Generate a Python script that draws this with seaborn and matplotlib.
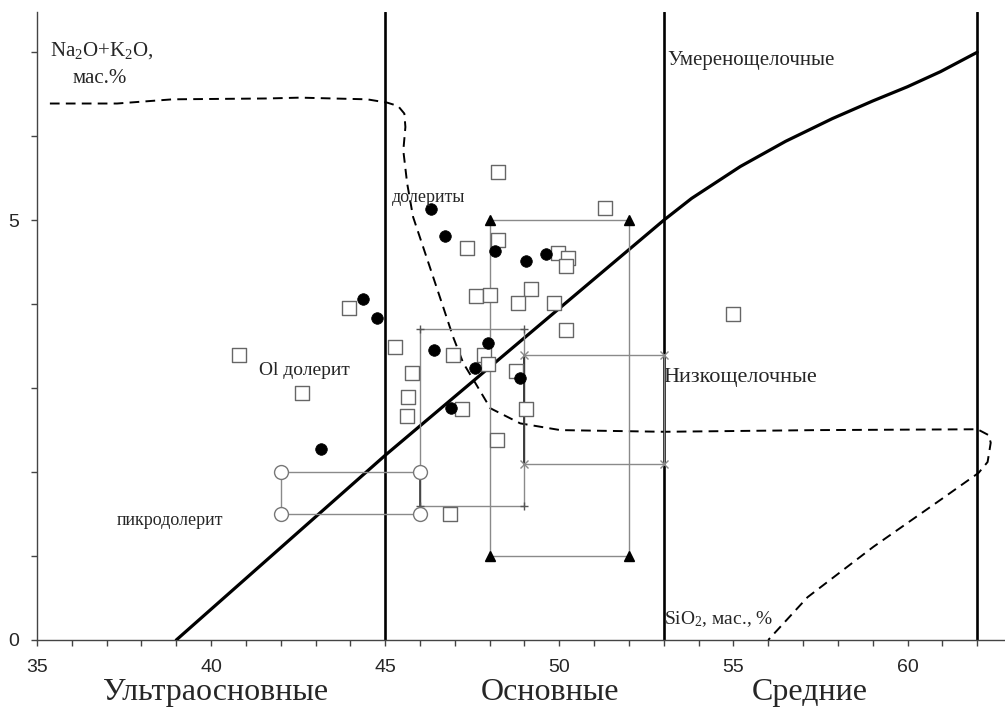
import numpy as np
import pandas as pd
import matplotlib
matplotlib.use("Agg")
import matplotlib.pyplot as plt
import seaborn as sns

# ---- data -------------------------------------------------------------
# Filled circles: SiO2, Na2O+K2O
circ_si = [46.32, 46.72, 48.16, 49.05, 49.63, 44.37, 44.77, 47.96, 46.41,
           47.59, 48.88, 46.90, 43.16]
circ_alk = [5.13, 4.81, 4.63, 4.52, 4.60, 4.06, 3.83, 3.54, 3.45,
            3.24, 3.12, 2.76, 2.27]

# Open squares: SiO2, Na2O+K2O
sq_si = [48.25, 51.32, 48.25, 47.36, 49.97, 50.26, 50.20, 49.20, 47.60,
         48.00, 48.82, 49.86, 50.20, 43.97, 45.29, 40.80, 46.95, 47.84,
         47.96, 45.78, 45.66, 42.60, 45.63, 47.21, 48.76, 49.05, 48.22,
         46.87, 55.00]
sq_alk = [5.58, 5.15, 4.76, 4.67, 4.61, 4.55, 4.46, 4.18, 4.10,
          4.11, 4.01, 4.01, 3.69, 3.95, 3.49, 3.39, 3.40, 3.39,
          3.29, 3.18, 2.90, 2.94, 2.67, 2.75, 3.20, 2.75, 2.38,
          1.50, 3.88]

# Composition ranges (SiO2 min/max, alkali min/max)
rng_picro = (42.0, 46.0, 1.5, 2.0)     # open circles
rng_plus = (46.0, 49.0, 1.6, 3.7)      # plus markers
rng_cross = (49.0, 53.0, 2.1, 3.4)     # x markers
rng_tri = (48.0, 52.0, 1.0, 5.0)       # triangles

# Alkaline / subalkaline boundary
bnd_si = [39.0, 45.0, 49.0, 53.0, 53.8, 55.2, 56.5, 57.84, 59.0, 60.0, 60.95, 62.0]
bnd_alk = [0.0, 2.2, 3.6, 5.0, 5.26, 5.64, 5.94, 6.21, 6.42, 6.59, 6.77, 7.0]

# Dolerite field contour (dashed)
fld_si = [35.37, 37.3, 38.9, 41.6, 42.56, 43.5, 44.48, 45.06, 45.37, 45.55,
          45.58, 45.52, 45.63, 45.80, 46.09, 46.38, 46.67, 46.95, 47.24,
          47.59, 48.02, 48.88, 50.03, 53.0, 57.41, 62.01, 62.33, 62.39,
          62.30, 62.04, 60.95, 59.02, 57.13, 56.0]
fld_alk = [6.39, 6.39, 6.44, 6.45, 6.46, 6.45, 6.44, 6.40, 6.36, 6.27,
           6.11, 5.83, 5.44, 5.04, 4.68, 4.32, 3.96, 3.61, 3.30,
           3.06, 2.76, 2.58, 2.50, 2.48, 2.50, 2.51, 2.44, 2.35,
           2.12, 1.99, 1.67, 1.11, 0.51, 0.0]

# Silica class borders
class_si = [45, 53, 62]
class_names = ["Ультраосновные", "Основные", "Средние"]
class_pos = [40.14, 49.74, 57.2]

# ---- style ------------------------------------------------------------
sns.set_theme(style="white")
plt.rcParams["font.family"] = ["Liberation Serif", "DejaVu Serif"]
plt.rcParams["mathtext.fontset"] = "custom"
plt.rcParams["mathtext.rm"] = "Liberation Serif"
plt.rcParams["mathtext.it"] = "Liberation Serif:italic"

fig = plt.figure(figsize=(10.05, 7.08), dpi=100)
ax = fig.add_axes([37 / 1005, 1 - 640 / 708, 1 - 37 / 1005, (640 - 12) / 708])
ax.set_xlim(35, 62.8)
ax.set_ylim(0, 7.48)

GRAY = "#8a8a8a"

# silica class borders
for xv in class_si:
    ax.axvline(xv, color="black", lw=1.9, zorder=2)

# boundary line
sns.lineplot(x=bnd_si, y=bnd_alk, sort=False, estimator=None, ax=ax,
             color="black", lw=2.3, zorder=3)

# dolerite field
sns.lineplot(x=fld_si, y=fld_alk, sort=False, estimator=None, ax=ax,
             color="black", lw=1.4, zorder=3, dashes=False)
ax.lines[-1].set_dashes((5, 3.2))


def draw_range(r, marker, ms, mfc, mec, mew):
    x0, x1, y0, y1 = r
    xs = [x0, x1, x1, x0, x0]
    ys = [y0, y0, y1, y1, y0]
    ax.plot(xs, ys, color=GRAY, lw=1.0, zorder=4)
    ax.plot([x0, x1, x1, x0], [y0, y0, y1, y1], ls="none", marker=marker,
            ms=ms, mfc=mfc, mec=mec, mew=mew, zorder=6)


draw_range(rng_tri, "^", 7, "black", "black", 1.0)
draw_range(rng_plus, "+", 6, "none", "#555555", 1.0)
draw_range(rng_cross, "x", 6, "none", GRAY, 1.0)
draw_range(rng_picro, "o", 10, "white", "#777777", 1.0)

# the two shared edges at SiO2 = 46 and 49 overlap and read darker
ax.plot([46, 46], [1.5, 2.0], color="#333333", lw=1.1, zorder=5)
ax.plot([49, 49], [2.1, 3.4], color="#333333", lw=1.3, zorder=5)

# samples
sq = pd.DataFrame({"SiO2": sq_si, "alk": sq_alk})
ci = pd.DataFrame({"SiO2": circ_si, "alk": circ_alk})
sns.scatterplot(data=sq, x="SiO2", y="alk", marker="s", s=100,
                facecolor="white", edgecolor="#666666", linewidth=1.0,
                ax=ax, zorder=7)
sns.scatterplot(data=ci, x="SiO2", y="alk", marker="o", s=70,
                color="black", edgecolor="black", linewidth=0.5,
                ax=ax, zorder=8)

# ---- axes -------------------------------------------------------------
for s in ["top", "right"]:
    ax.spines[s].set_visible(False)
for s in ["left", "bottom"]:
    ax.spines[s].set_color("#444444")
    ax.spines[s].set_linewidth(1.0)

ax.set_xticks([35, 40, 45, 50, 55, 60])
ax.set_xticks(np.arange(35, 63, 1), minor=True)
ax.set_yticks([0, 5])
ax.set_yticks(np.arange(0, 8, 1), minor=True)
ax.tick_params(axis="both", which="both", direction="out", length=4.5,
               width=1.0, color="#444444", bottom=True, left=True)
ax.tick_params(axis="x", which="major", pad=9, labelsize=14)
ax.tick_params(axis="y", which="major", pad=8.5, labelsize=14)
for lab in ax.get_xticklabels() + ax.get_yticklabels():
    lab.set_family(["Liberation Sans", "DejaVu Sans"])
ax.set_xlabel("")
ax.set_ylabel("")

# ---- annotations ------------------------------------------------------
ax.text(35.37, 7.02, r"Na$_2$O+K$_2$O,", fontsize=15, va="center", ha="left")
ax.text(36.03, 6.69, "мас.%", fontsize=15, va="center", ha="left")
ax.text(53.1, 6.9, "Умеренощелочные", fontsize=15, va="center", ha="left")
ax.text(45.2, 5.27, "долериты", fontsize=13, va="center", ha="left", zorder=9)
ax.text(41.38, 3.21, "Ol долерит", fontsize=14, va="center", ha="left")
ax.text(52.99, 3.13, "Низкощелочные", fontsize=16, va="center", ha="left")
ax.text(37.3, 1.42, "пикродолерит", fontsize=13, va="center", ha="left")
ax.text(53.02, 0.25, r"SiO$_2$, мас., %", fontsize=14, va="center", ha="left")

for name, xp in zip(class_names, class_pos):
    ax.text(xp, -0.72, name, fontsize=23, ha="center", va="baseline",
            clip_on=False)

fig.savefig("out.png", dpi=100)
